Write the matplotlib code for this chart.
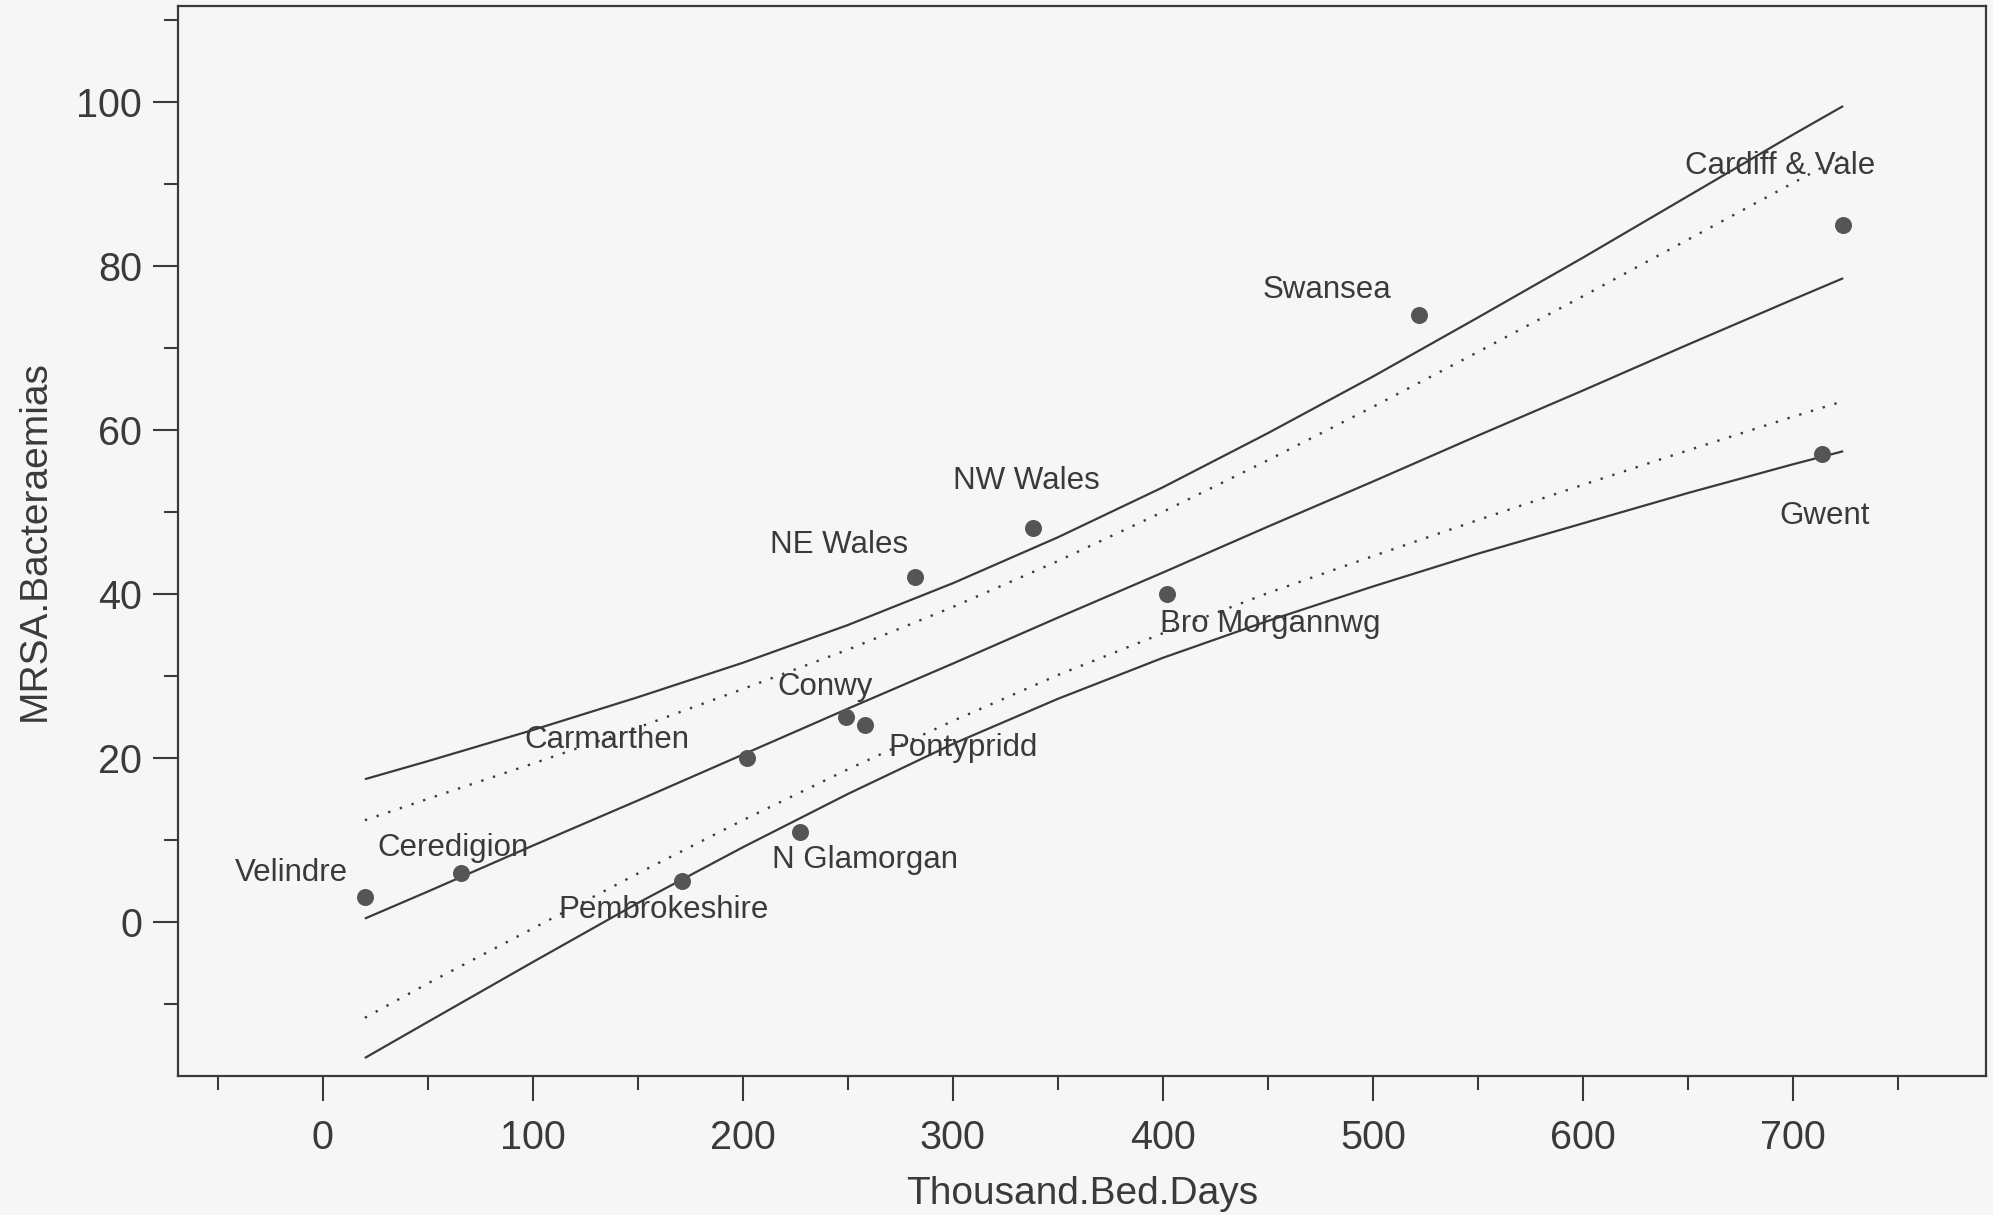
"""MRSA bacteraemias vs thousand bed days, Welsh trusts, with fitted line and bands."""
import matplotlib
matplotlib.use("Agg")
import matplotlib.pyplot as plt
from matplotlib.ticker import MultipleLocator

plt.rcParams["font.family"] = ["Liberation Sans", "DejaVu Sans"]

# --- points ---
trusts = ["Velindre", "Ceredigion", "Pembrokeshire", "Carmarthen", "N Glamorgan",
          "Conwy", "Pontypridd", "NE Wales", "NW Wales", "Bro Morgannwg",
          "Swansea", "Gwent", "Cardiff & Vale"]
bed_days = [20, 66, 171, 202, 227, 249, 258, 282, 338, 402, 522, 714, 724]
mrsa = [3, 6, 5, 20, 11, 25, 24, 42, 48, 40, 74, 57, 85]

# label positions (data coords)
label_x = [-15, 62, 162, 135, 258, 239, 305, 246, 335, 451, 478, 715, 694]
label_y = [5.9, 9.0, 1.4, 22.2, 7.6, 28.7, 21.2, 46.0, 53.8, 36.3, 77.1, 49.5, 92.2]

# --- fitted line and bands, read at these x ---
band_x = [20, 50, 100, 150, 200, 250, 300, 350, 400, 450, 500, 550, 600, 650, 700, 724]
fit_y = [0.4, 3.7, 9.3, 14.8, 20.4, 26.0, 31.5, 37.1, 42.6, 48.2, 53.7, 59.3, 64.8,
         70.4, 75.9, 78.5]
outer_hi = [17.4, 19.6, 23.4, 27.4, 31.6, 36.2, 41.3, 46.9, 53.0, 59.6, 66.5, 73.7,
            81.0, 88.5, 96.0, 99.5]
outer_lo = [-16.6, -12.2, -4.9, 2.3, 9.1, 15.6, 21.7, 27.2, 32.2, 36.7, 40.9, 44.9,
            48.6, 52.3, 55.8, 57.4]
inner_hi = [12.4, 15.0, 19.3, 23.7, 28.4, 33.2, 38.4, 44.0, 50.0, 56.3, 62.8, 69.5,
            76.3, 83.2, 90.1, 93.4]
inner_lo = [-11.7, -7.5, -0.8, 5.9, 12.4, 18.6, 24.5, 30.1, 35.2, 40.1, 44.6, 49.0,
            53.3, 57.5, 61.6, 63.5]

INK = "#3a3a3a"
BG = "#f6f6f6"

fig = plt.figure(figsize=(19.93, 12.15), dpi=100, facecolor=BG)
ax = fig.add_axes([178 / 1993, 1 - 1076 / 1215, 1808 / 1993, 1070 / 1215])
ax.set_facecolor(BG)

for ys in (fit_y, outer_hi, outer_lo):
    ax.plot(band_x, ys, color=INK, lw=1.6, solid_capstyle="butt")
for ys in (inner_hi, inner_lo):
    ax.plot(band_x, ys, color=INK, lw=1.7, ls=(0, (1, 4.2)))

ax.scatter(bed_days, mrsa, s=150, color="#555555", zorder=3, linewidths=0)

for name, tx, ty in zip(trusts, label_x, label_y):
    ax.text(tx, ty, name, fontsize=22.5, color=INK, ha="center", va="center")

ax.set_xlim(-69, 792)
ax.set_ylim(-18.8, 111.7)
ax.xaxis.set_minor_locator(MultipleLocator(50))
ax.yaxis.set_minor_locator(MultipleLocator(10))
ax.set_xticks(range(0, 701, 100))
ax.set_yticks(range(0, 101, 20))

ax.tick_params(which="major", length=18, width=1.5, color=INK, labelsize=28.5,
               labelcolor=INK, direction="out")
ax.tick_params(which="minor", length=10, width=1.5, color=INK, direction="out")
ax.tick_params(axis="x", which="major", pad=13)
ax.tick_params(axis="y", which="major", pad=8)
for sp in ax.spines.values():
    sp.set_color(INK)
    sp.set_linewidth(1.6)

ax.set_xlabel("Thousand.Bed.Days", fontsize=28, color=INK)
ax.xaxis.set_label_coords(0.5, -0.093)
ax.set_ylabel("MRSA.Bacteraemias", fontsize=28, color=INK)
ax.yaxis.set_label_coords(-0.069, 0.5)

fig.savefig("out.png", dpi=100, facecolor=BG)
